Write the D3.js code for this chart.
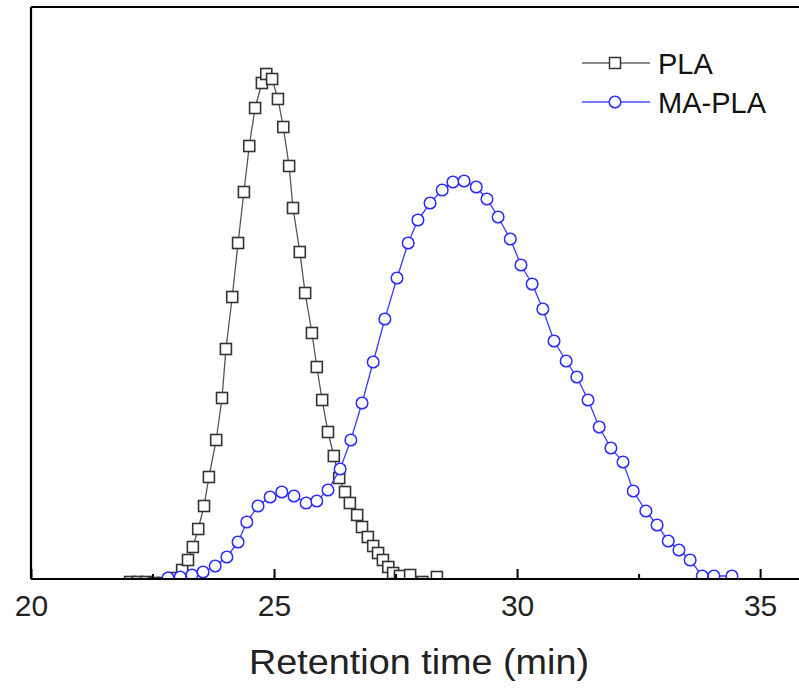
<!DOCTYPE html>
<html>
<head>
<meta charset="utf-8">
<script src="https://cdn.jsdelivr.net/npm/d3@7"></script>
<style>
  html, body { margin: 0; padding: 0; background: #fff; }
  svg { display: block; }
  text { font-family: "Liberation Sans", Arial, sans-serif; }
</style>
</head>
<body>
<svg id="chart" width="799" height="688"></svg>
<script>
// ---- data (retention time in min, detector response in arbitrary units) ----
const plaTime = [22.04, 22.20, 22.37, 22.53, 22.72, 22.92, 23.11, 23.23, 23.33, 23.44, 23.56, 23.66, 23.81, 23.93,
  24.01, 24.14, 24.26, 24.38, 24.49, 24.61, 24.75, 24.84, 24.96, 25.08, 25.19, 25.31, 25.39, 25.53, 25.64, 25.78,
  25.88, 25.99, 26.11, 26.23, 26.34, 26.46, 26.56, 26.71, 26.81, 26.93, 27.04, 27.14, 27.24, 27.35, 27.45, 27.59,
  27.80, 28.05, 28.35];
const plaSignal = [-0.6, -0.6, -0.6, -0.8, -0.8, 0.2, 1.8, 3.8, 6.4, 10.0, 14.6, 20.4, 27.8, 36.2,
  46.0, 56.4, 67.2, 77.4, 86.6, 94.2, 99.2, 101.0, 100.0, 96.0, 90.4, 82.6, 74.2, 65.4, 57.2, 49.2,
  42.4, 35.8, 29.4, 24.6, 20.2, 17.4, 15.2, 12.8, 10.4, 8.4, 6.6, 5.2, 3.8, 2.4, 1.2, 0.6,
  0.8, -0.6, 0.4];

const maplaTime = [22.82, 23.07, 23.31, 23.54, 23.79, 24.03, 24.26, 24.44, 24.67, 24.92, 25.16, 25.41, 25.66, 25.88,
  26.11, 26.36, 26.58, 26.81, 27.04, 27.28, 27.53, 27.76, 27.96, 28.21, 28.46, 28.68, 28.91, 29.16, 29.38, 29.61,
  29.86, 30.08, 30.31, 30.53, 30.76, 31.01, 31.23, 31.46, 31.69, 31.93, 32.18, 32.39, 32.65, 32.88, 33.11, 33.33,
  33.56, 33.81, 34.05, 34.42];
const maplaSignal = [0.2, 0.4, 0.8, 1.4, 2.6, 4.4, 7.4, 11.4, 14.6, 16.4, 17.4, 16.6, 15.2, 15.6,
  17.8, 22.0, 27.8, 35.2, 43.4, 52.0, 60.2, 67.2, 71.8, 75.2, 77.8, 79.4, 79.6, 78.4, 76.0, 72.4,
  68.0, 62.8, 59.0, 54.0, 47.6, 43.6, 40.4, 35.8, 30.4, 26.2, 23.4, 17.6, 13.6, 10.8, 7.6, 5.8,
  3.8, 0.6, 0.6, 0.6];

const majorTicks = [20, 25, 30, 35];
const minorTicks = [22.5, 27.5, 32.5];
const xLabel = "Retention time (min)";
const seriesNames = ["PLA", "MA-PLA"];

// ---- layout ----
const svg = d3.select("#chart");
const pLeft = 31, pRight = 799, pTop = 7, pBottom = 579;

const x = d3.scaleLinear().domain([20, 35.8]).range([pLeft, pRight]);
const y = d3.scaleLinear().domain([0, 114.4]).range([pBottom, pTop]);

svg.append("defs").append("clipPath").attr("id", "plotclip")
  .append("rect").attr("x", pLeft).attr("y", pTop).attr("width", pRight - pLeft).attr("height", pBottom - pTop);

const plot = svg.append("g").attr("clip-path", "url(#plotclip)");

const pla = plaTime.map((t, i) => ({ t, v: plaSignal[i] }));
const mapla = maplaTime.map((t, i) => ({ t, v: maplaSignal[i] }));

const line = d3.line().x(d => x(d.t)).y(d => y(d.v));

// PLA
plot.append("path").datum(pla).attr("d", line)
  .attr("fill", "none").attr("stroke", "#555").attr("stroke-width", 1.3);
const sq = 11;
plot.selectAll("rect.pla").data(pla).join("rect").attr("class", "pla")
  .attr("x", d => x(d.t) - sq / 2).attr("y", d => y(d.v) - sq / 2)
  .attr("width", sq).attr("height", sq)
  .attr("fill", "#fff").attr("stroke", "#333").attr("stroke-width", 1.6);

// MA-PLA
plot.append("path").datum(mapla).attr("d", line)
  .attr("fill", "none").attr("stroke", "#3a3aff").attr("stroke-width", 1.3);
plot.selectAll("circle.mapla").data(mapla).join("circle").attr("class", "mapla")
  .attr("cx", d => x(d.t)).attr("cy", d => y(d.v)).attr("r", 5.8)
  .attr("fill", "#fff").attr("stroke", "#2b2bff").attr("stroke-width", 1.5);

// ---- axes ----
const xAxis = d3.axisBottom(x).tickValues(majorTicks).tickFormat(d3.format("d"))
  .tickSizeInner(-10).tickSizeOuter(0).tickPadding(16);
const gx = svg.append("g").attr("transform", `translate(0,${pBottom})`).call(xAxis);
gx.select(".domain").remove();
gx.selectAll(".tick line").attr("stroke", "#000").attr("stroke-width", 2);
gx.selectAll(".tick text").attr("fill", "#222").style("font-size", "30px")
  .style("font-family", "'Liberation Sans', Arial, sans-serif");

const xMinor = d3.axisBottom(x).tickValues(minorTicks).tickFormat("")
  .tickSizeInner(-5).tickSizeOuter(0);
const gm = svg.append("g").attr("transform", `translate(0,${pBottom})`).call(xMinor);
gm.select(".domain").remove();
gm.selectAll(".tick line").attr("stroke", "#000").attr("stroke-width", 2);

// frame lines
svg.append("line").attr("x1", pLeft).attr("x2", pRight).attr("y1", pBottom).attr("y2", pBottom)
  .attr("stroke", "#000").attr("stroke-width", 2.2);
svg.append("line").attr("x1", pLeft).attr("x2", pLeft).attr("y1", pTop).attr("y2", pBottom)
  .attr("stroke", "#000").attr("stroke-width", 2.2);
svg.append("line").attr("x1", pLeft).attr("x2", pRight).attr("y1", pTop).attr("y2", pTop)
  .attr("stroke", "#000").attr("stroke-width", 2.2);

// axis title
svg.append("text").attr("x", 419).attr("y", 674).attr("text-anchor", "middle")
  .attr("fill", "#222").style("font-size", "35px")
  .attr("textLength", 340).attr("lengthAdjust", "spacingAndGlyphs")
  .text(xLabel);

// ---- legend ----
const leg = svg.append("g");
const legRows = [
  { name: seriesNames[0], y: 63, color: "#666", marker: "square" },
  { name: seriesNames[1], y: 102, color: "#4a4aff", marker: "circle" }
];
legRows.forEach(r => {
  leg.append("line").attr("x1", 582).attr("x2", 650).attr("y1", r.y).attr("y2", r.y)
    .attr("stroke", r.color).attr("stroke-width", 1.5);
  if (r.marker === "square") {
    leg.append("rect").attr("x", 615 - 5.5).attr("y", r.y - 5.5).attr("width", 11).attr("height", 11)
      .attr("fill", "#fff").attr("stroke", "#333").attr("stroke-width", 1.5);
  } else {
    leg.append("circle").attr("cx", 615).attr("cy", r.y).attr("r", 5.8)
      .attr("fill", "#fff").attr("stroke", "#2b2bff").attr("stroke-width", 1.5);
  }
  leg.append("text").attr("x", 658).attr("y", r.y + 10.5).attr("fill", "#111")
    .style("font-size", "29px").text(r.name);
});
</script>
</body>
</html>
